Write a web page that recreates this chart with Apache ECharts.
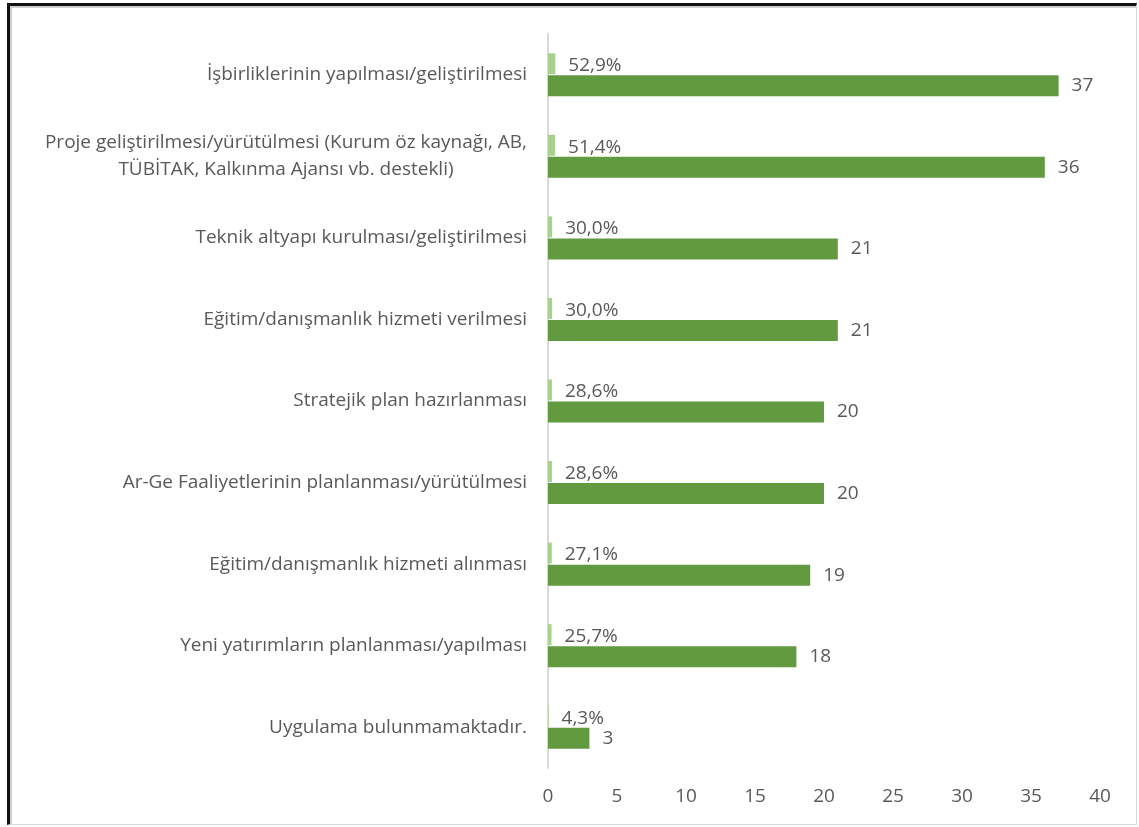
<!DOCTYPE html>
<html>
<head>
<meta charset="utf-8">
<script src="https://cdn.jsdelivr.net/npm/echarts@6/dist/echarts.min.js"></script>
<style>
  html, body { margin: 0; padding: 0; background: #fff; }
  #frame {
    position: absolute; left: 7px; top: 3px; width: 1126px; height: 818px;
    border-left: 3px solid #111; border-top: 3px solid #111;
    border-right: 1px solid #d9d9d9; border-bottom: 1px solid #d9d9d9;
    box-shadow: inset 2px 2px 0 #cfcfcf;
  }
  #chart { position: absolute; left: 0; top: 0; width: 1139px; height: 827px; }
</style>
</head>
<body>
<div id="frame"></div>
<div id="chart"></div>
<script>
// Application areas, top to bottom
const categories = [
  'İşbirliklerinin yapılması/geliştirilmesi',
  'Proje geliştirilmesi/yürütülmesi (Kurum öz kaynağı, AB,\nTÜBİTAK, Kalkınma Ajansı vb. destekli)',
  'Teknik altyapı kurulması/geliştirilmesi',
  'Eğitim/danışmanlık hizmeti verilmesi',
  'Stratejik plan hazırlanması',
  'Ar-Ge Faaliyetlerinin planlanması/yürütülmesi',
  'Eğitim/danışmanlık hizmeti alınması',
  'Yeni yatırımların planlanması/yapılması',
  'Uygulama bulunmamaktadır.'
];
// Share of respondents (%)
const percents = [52.9, 51.4, 30.0, 30.0, 28.6, 28.6, 27.1, 25.7, 4.3];
// Number of respondents
const counts = [37, 36, 21, 21, 20, 20, 19, 18, 3];
const xTicks = { min: 0, max: 40, interval: 5 };

const FONT = '"Open Sans"';
const TXT = '#595959';
const FS = 19;

const chart = echarts.init(document.getElementById('chart'), null, { renderer: 'canvas' });
chart.setOption({
  animation: false,
  grid: { left: 548, right: 39, top: 34, bottom: 59, containLabel: false },
  xAxis: {
    type: 'value', min: xTicks.min, max: xTicks.max, interval: xTicks.interval,
    axisLine: { show: false }, axisTick: { show: false }, splitLine: { show: false },
    axisLabel: { color: TXT, fontFamily: FONT, fontSize: FS, margin: 19 }
  },
  yAxis: {
    type: 'category', inverse: true, data: categories,
    axisLine: { show: true, lineStyle: { color: '#d9d9d9', width: 2 } },
    axisTick: { show: false },
    axisLabel: {
      color: TXT, fontFamily: FONT, fontSize: FS, margin: 21, align: 'right', lineHeight: 27,
      formatter: v => v.split('\n').map(s => '{c|' + s + '}').join('\n'),
      rich: { c: { align: 'center', color: TXT, fontFamily: FONT, fontSize: FS, lineHeight: 27 } }
    }
  },
  series: [
    {
      name: 'Yüzde', type: 'bar', barWidth: 21, barGap: '5%',
      data: percents.map(p => p / 100),
      itemStyle: { color: '#a9d18e' },
      label: {
        show: true, position: 'right', distance: 13, offset: [0, 2],
        color: TXT, fontFamily: FONT, fontSize: FS,
        formatter: p => percents[p.dataIndex].toFixed(1).replace('.', ',') + '%'
      }
    },
    {
      name: 'Sayı', type: 'bar', barWidth: 21,
      data: counts,
      itemStyle: { color: '#619a3f' },
      label: {
        show: true, position: 'right', distance: 13,
        color: TXT, fontFamily: FONT, fontSize: FS
      }
    }
  ]
});
</script>
</body>
</html>
